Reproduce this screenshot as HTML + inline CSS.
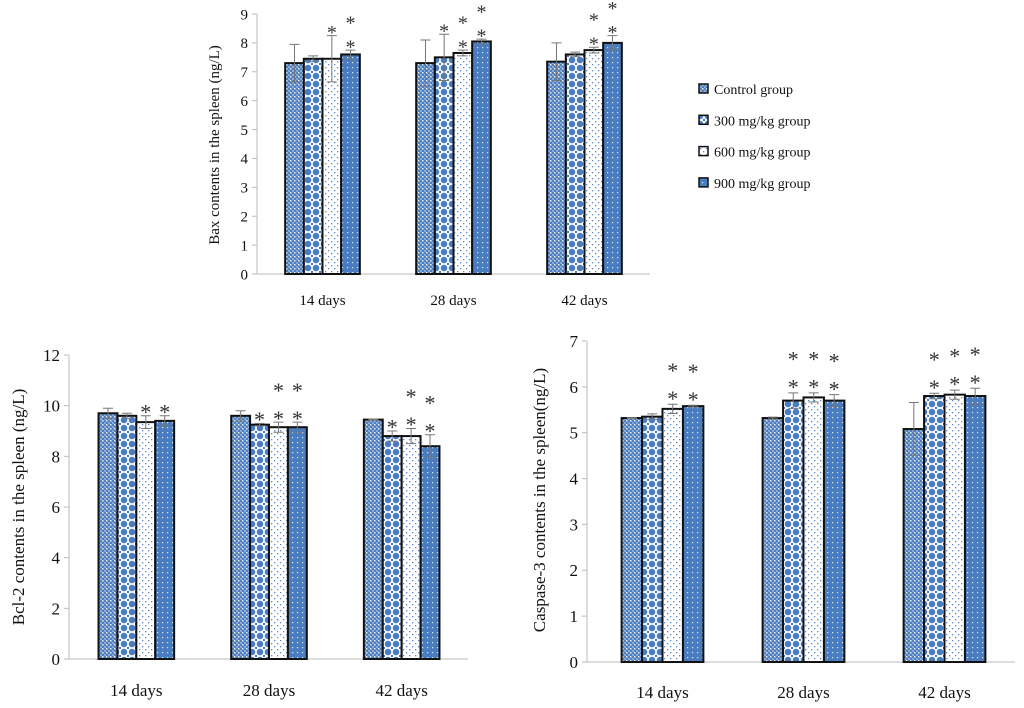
<!DOCTYPE html>
<html><head><meta charset="utf-8"><style>
html,body{margin:0;padding:0;background:#fff;}
svg{display:block;font-family:"Liberation Serif",serif;}
</style></head><body>
<svg id="c" width="1024" height="708" viewBox="0 0 1024 708">
<defs>
<pattern id="pCtrl" width="4" height="4" patternUnits="userSpaceOnUse"><rect width="4" height="4" fill="#8aaad8"/><rect width="2" height="2" fill="#4f7fc0"/><rect x="2" y="2" width="2" height="2" fill="#4f7fc0"/><rect x="2" y="0" width="1" height="1" fill="#fff"/></pattern>
<pattern id="p300" width="8" height="8" patternUnits="userSpaceOnUse"><rect width="8" height="8" fill="#fff"/><circle cx="4" cy="4" r="3.3" fill="#4a7cc0"/><circle cx="0" cy="0" r="1.2" fill="#4a7cc0"/><circle cx="8" cy="8" r="1.2" fill="#4a7cc0"/><circle cx="0" cy="8" r="1.2" fill="#4a7cc0"/><circle cx="8" cy="0" r="1.2" fill="#4a7cc0"/></pattern>
<pattern id="p600" width="6" height="6" patternUnits="userSpaceOnUse"><rect width="6" height="6" fill="#fff"/><rect x="1" y="1" width="1.3" height="1.3" fill="#5b88c8"/><rect x="4" y="4" width="1.3" height="1.3" fill="#5b88c8"/></pattern>
<pattern id="p900" width="5" height="5" patternUnits="userSpaceOnUse"><rect width="5" height="5" fill="#4a7cc0"/><rect x="2" y="2" width="1.2" height="1.2" fill="#dfe8f5"/></pattern>
</defs>
</svg>
<script>
const categories = ["14 days","28 days","42 days"];
const seriesNames = ["Control group","300 mg/kg group","600 mg/kg group","900 mg/kg group"];
// Bax
const baxValues = [[7.3,7.45,7.45,7.6],[7.3,7.5,7.65,8.05],[7.35,7.6,7.75,8.0]];
const baxErrors = [[0.65,0.1,0.8,0.15],[0.8,0.8,0.1,0.08],[0.65,0.08,0.1,0.25]];
const baxStars = [[0,0,1,2],[0,1,2,2],[0,0,2,2]];
const baxTicks = [0,1,2,3,4,5,6,7,8,9];
// Bcl-2
const bclValues = [[9.7,9.6,9.35,9.4],[9.6,9.25,9.15,9.15],[9.45,8.8,8.8,8.4]];
const bclErrors = [[0.2,0.1,0.25,0.2],[0.2,0.05,0.2,0.2],[0.02,0.2,0.3,0.45]];
const bclStars = [[0,0,1,1],[0,1,2,2],[0,1,2,2]];
const bclTicks = [0,2,4,6,8,10,12];
// Caspase-3
const casValues = [[5.32,5.35,5.52,5.58],[5.32,5.7,5.77,5.7],[5.08,5.8,5.83,5.8]];
const casErrors = [[0.01,0.06,0.1,0.02],[0.02,0.17,0.1,0.13],[0.58,0.06,0.1,0.17]];
const casStars = [[0,0,2,2],[0,2,2,2],[0,2,2,2]];
const casTicks = [0,1,2,3,4,5,6,7];

const fills = ["url(#pCtrl)","url(#p300)","url(#p600)","url(#p900)"];
const svg = document.getElementById('c');
const NS = "http://www.w3.org/2000/svg";
function mk(tag, attrs, parent){const e=document.createElementNS(NS,tag);for(const k in attrs)e.setAttribute(k,attrs[k]);(parent||svg).appendChild(e);return e;}

function chart(o){
  const g = mk('g',{});
  
  
  const max = o.ticks[o.ticks.length-1];
  const y = v => o.y0 - v/max*(o.y0-o.yTop);
  const band = (o.xEnd-o.bandStart)/categories.length;
  const xc = i => o.bandStart + band*(i+0.5);
  const ax = mk('line',{x1:o.axX,y1:o.yTop,x2:o.axX,y2:o.y0,stroke:'#bbb','stroke-width':1},g);
   
  const bx = mk('line',{x1:o.axX,y1:o.y0,x2:o.xEnd,y2:o.y0,stroke:'#bbb','stroke-width':1},g);
   
  o.ticks.forEach(t=>{
    mk('line',{x1:o.axX-5,y1:y(t),x2:o.axX,y2:y(t),stroke:'#bbb'},g);
    const tx = mk('text',{x:o.axX-9,y:y(t)+o.fs*0.35,'text-anchor':'end','font-size':o.fs,fill:'#111'},g);
    tx.textContent=t;
     
  });
  const yl = mk('text',{x:0,y:0,'text-anchor':'middle','font-size':o.fs,fill:'#111',transform:`translate(${o.ylX},${o.ylY}) rotate(-90)`},g);
  yl.textContent=o.ylabel;
   
  categories.forEach((c,i)=>{
    const t = mk('text',{x:xc(i),y:o.catY,'text-anchor':'middle','font-size':o.fs,fill:'#111'},g);
    t.textContent=c;
     
    const gw = band*o.frac, bw = gw/4, x0 = xc(i)-gw/2;
    o.vals[i].forEach((v,j)=>{
      const bx0 = x0 + j*bw;
      const r = mk('rect',{x:bx0,y:y(v),width:bw,height:o.y0-y(v),fill:fills[j],stroke:'#111','stroke-width':2},g);
      
      
      const e = o.errs[i][j], cx = bx0+bw/2;
      const top = y(v+e), bot = y(v-e);
      const eb = mk('path',{d:`M${cx},${top}V${bot}M${cx-5},${top}H${cx+5}M${cx-5},${bot}H${cx+5}`,stroke:'#777','stroke-width':1,fill:'none'},g);
       
      const sf = o.fs+5;
      for(let s=0;s<o.stars[i][j];s++){
        const st = mk('text',{x:cx,y:top-o.starLift-s*o.starGap+sf*0.62,'text-anchor':'middle','font-size':sf,fill:'#333'},g);
        st.textContent='*';
         
      }
    });
  });
}
chart({name:'bax-chart',vals:baxValues,errs:baxErrors,stars:baxStars,ticks:baxTicks,axX:257,bandStart:257,xEnd:650,y0:274,yTop:14,frac:0.57,fs:15,catY:305,ylX:219,ylY:145,ylabel:'Bax contents in the spleen (ng/L)',starGap:24,starLift:9});
chart({name:'bcl2-chart',vals:bclValues,errs:bclErrors,stars:bclStars,ticks:bclTicks,axX:69,bandStart:70,xEnd:468,y0:659,yTop:355,frac:0.57,fs:17,catY:696,ylX:24,ylY:507,ylabel:'Bcl-2 contents in the spleen (ng/L)',starGap:28,starLift:10});
chart({name:'caspase3-chart',vals:casValues,errs:casErrors,stars:casStars,ticks:casTicks,axX:587,bandStart:592,xEnd:1015,y0:662,yTop:341,frac:0.58,fs:17,catY:698,ylX:545,ylY:500,ylabel:'Caspase-3 contents in the spleen(ng/L)',starGap:28,starLift:12});

const lg = mk('g',{});


seriesNames.forEach((n,i)=>{
  const yy = 89 + i*31.3;
  const r = mk('rect',{x:699,y:yy-5,width:9,height:9,fill:fills[i],stroke:'#111','stroke-width':1.5},lg);
   
  const t = mk('text',{x:714,y:yy+5,'font-size':14,fill:'#111'},lg);
  t.textContent=n;
   
});
</script>
</body></html>
